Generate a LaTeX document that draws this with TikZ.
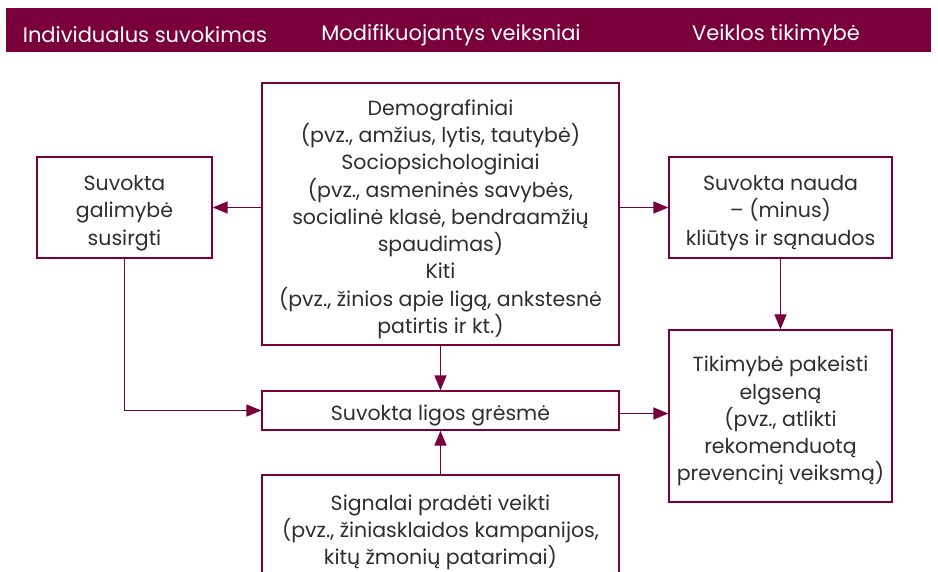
\documentclass[tikz,border=0pt]{standalone}
\usepackage{fontspec}
\setmainfont{Poppins}
\usetikzlibrary{arrows.meta}
\definecolor{wine}{HTML}{7A003C}
\definecolor{ink}{HTML}{2E2E2E}
% tall strut on the first line lowers each text block a little
\newcommand{\firststrut}{\rule{0pt}{26pt}}
\tikzset{
  box/.style={draw=wine, line width=1.3pt, fill=white, align=center, text=ink,
    inner sep=0pt, font=\fontsize{20.5}{27.3}\selectfont},
  link/.style={draw=wine, line width=1.3pt, -{Triangle[length=15pt,width=12pt]}},
  head/.style={text=white, font=\fontsize{21}{24}\selectfont, anchor=center}
}
\begin{document}
\begin{tikzpicture}[x=1pt, y=-1pt]
\useasboundingbox (0,0) rectangle (938,572);
% header band
\fill[wine] (6,8) rectangle (931,52);
\node[head] (h1) at (145,35) {Individualus suvokimas};
\node[head] (h2) at (451,35) {Modifikuojantys veiksniai};
\node[head] (h3) at (776,35) {Veiklos tikimybė};

% boxes
\node[box, minimum width=357, minimum height=262] (mod) at (440.5,214)
 {\firststrut Demografiniai\\(pvz., amžius, lytis, tautybė)\\Sociopsichologiniai\\(pvz., asmeninės savybės,\\socialinė klasė, bendraamžių\\spaudimas)\\Kiti\\(pvz., žinios apie ligą, ankstesnė\\patirtis ir kt.)};
\node[box, minimum width=175, minimum height=101] (susc) at (124.5,207.5)
 {\firststrut Suvokta\\galimybė\\susirgti};
\node[box, minimum width=223, minimum height=101] (benef) at (780.5,207.5)
 {\firststrut Suvokta nauda\\– (minus)\\kliūtys ir sąnaudos};
\node[box, minimum width=357, minimum height=39] (threat) at (440.5,410.5)
 {\firststrut Suvokta ligos grėsmė};
\node[box, minimum width=223, minimum height=172] (likely) at (780.5,416)
 {\firststrut Tikimybė pakeisti\\elgseną\\(pvz., atlikti\\rekomenduotą\\prevencinį veiksmą)};
\node[box, minimum width=357, minimum height=104] (cues) at (440.5,527)
 {\firststrut Signalai pradėti veikti\\(pvz., žiniasklaidos kampanijos,\\kitų žmonių patarimai)};

% connectors
\coordinate (tout) at ([yshift=-3pt]threat.east);
\draw[link] (mod.west |- susc.east) -- (susc.east);
\draw[link] (mod.east |- benef.west) -- (benef.west);
\draw[link] (susc.south) |- (threat.west);
\draw[link] (mod.south) -- (threat.north);
\draw[link] (cues.north) -- (threat.south);
\draw[link] (tout) -- (likely.west |- tout);
\draw[link] (benef.south) -- (likely.north);
\end{tikzpicture}
\end{document}
